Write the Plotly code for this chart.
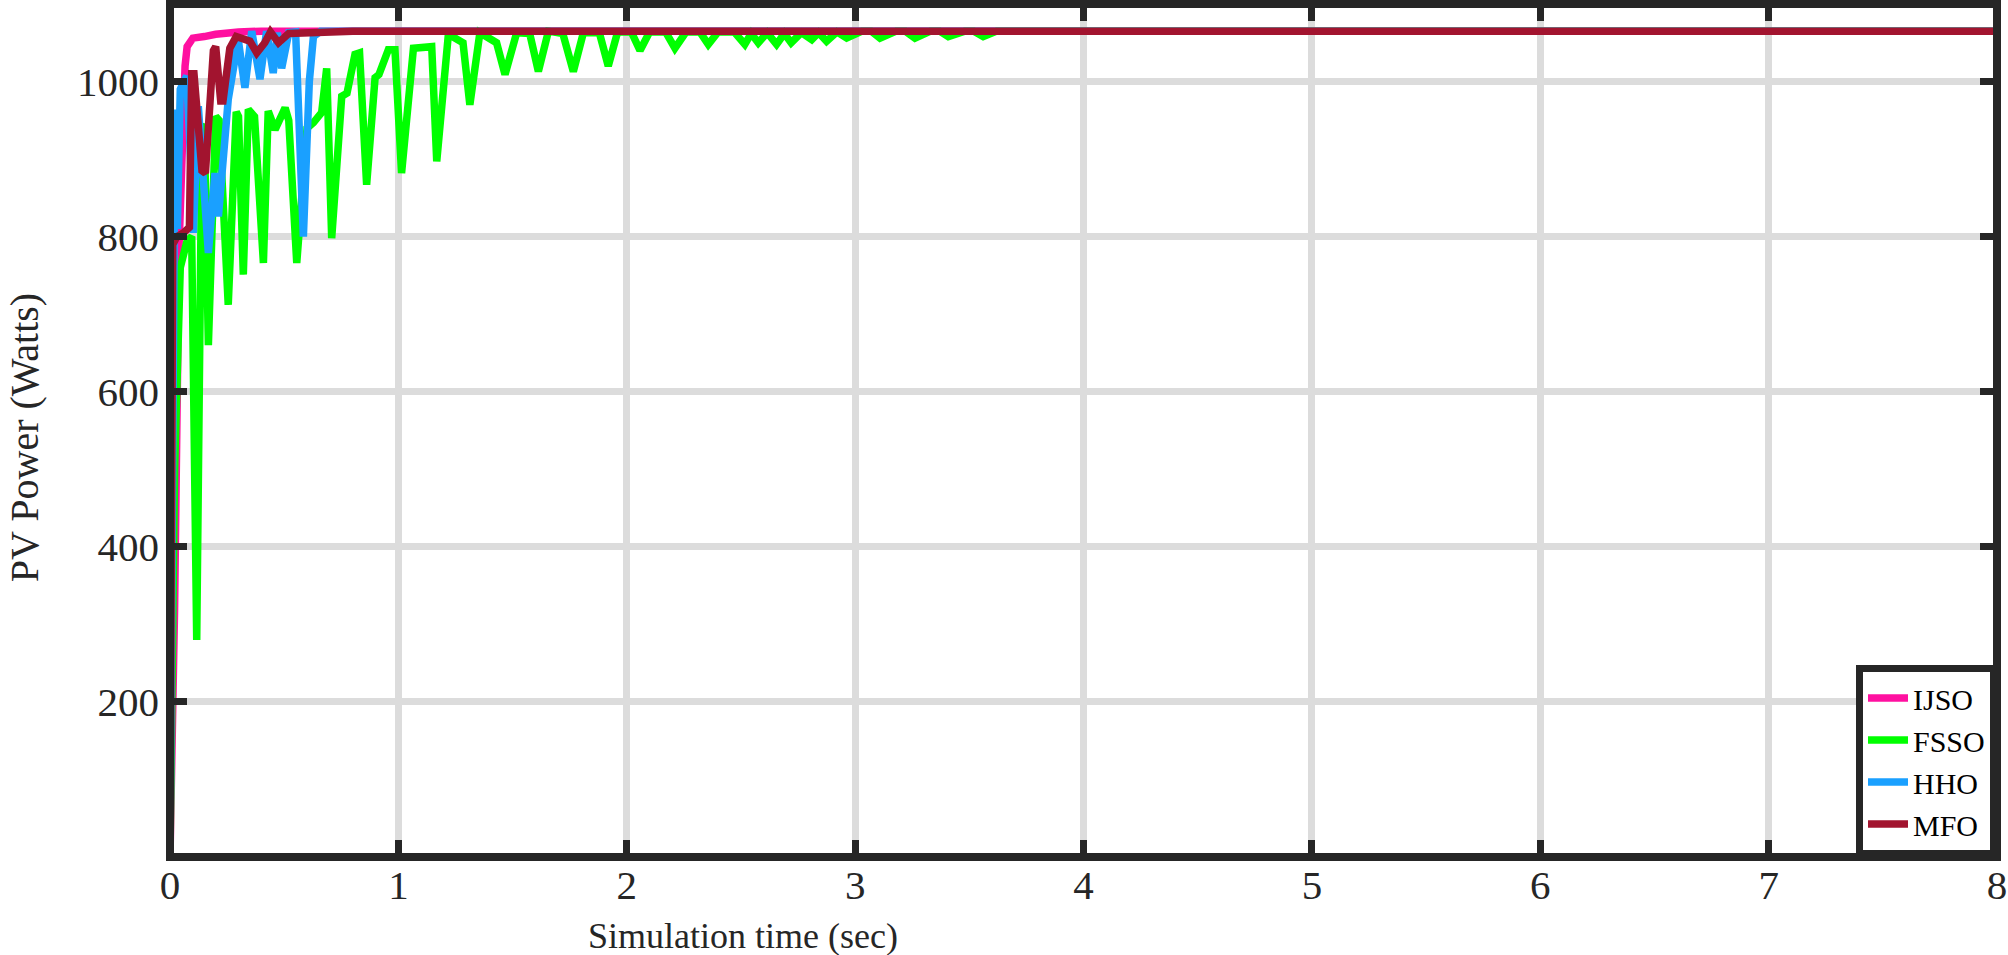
import plotly.graph_objects as go

# time (sec) / power (W), one pair of lists per algorithm
IJSO_T = [0, 0.02, 0.04, 0.05, 0.058, 0.066, 0.075, 0.1, 0.15, 0.2, 0.3, 0.4, 8]
IJSO_P = [0, 320, 790, 900, 965, 1020, 1045, 1056, 1058, 1061, 1064, 1065, 1065]

FSSO_T = [0, 0.02, 0.045, 0.075, 0.095, 0.117, 0.14, 0.15, 0.168, 0.2, 0.215,
          0.255, 0.29, 0.3, 0.321, 0.343, 0.37, 0.409, 0.43, 0.46, 0.504, 0.52,
          0.555, 0.6, 0.628, 0.664, 0.686, 0.708, 0.752, 0.775, 0.81, 0.83,
          0.861, 0.898, 0.915, 0.956, 0.985, 1.014, 1.066, 1.12, 1.146, 1.168,
          1.219, 1.283, 1.313, 1.357, 1.43, 1.467, 1.518, 1.575, 1.613, 1.657,
          1.72, 1.766, 1.81, 1.88, 1.919, 1.96, 2.02, 2.058, 2.1, 2.17, 2.211,
          2.26, 2.32, 2.357, 2.4, 2.47, 2.517, 2.545, 2.576, 2.615, 2.656, 2.69,
          2.72, 2.765, 2.81, 2.84, 2.875, 2.92, 2.963, 3.03, 3.07, 3.109, 3.18,
          3.22, 3.262, 3.33, 3.37, 3.408, 3.48, 3.52, 3.561, 3.62, 8]
FSSO_P = [0, 500, 760, 795, 800, 280, 940, 945, 660, 955, 950,
          712, 961, 955, 751, 964, 955, 766, 962, 938, 966, 950,
          766, 940, 947, 960, 1017, 798, 981, 985, 1035, 1037,
          867, 1005, 1009, 1041, 1041, 882, 1043, 1045, 1045, 897,
          1061, 1050, 970, 1063, 1050, 1009, 1063, 1062, 1013, 1065,
          1062, 1013, 1063, 1063, 1020, 1064, 1064, 1040, 1064, 1064, 1043,
          1064, 1064, 1048, 1064, 1064, 1048, 1062, 1050, 1063, 1048, 1062,
          1050, 1063, 1054, 1063, 1052, 1064, 1056, 1065, 1065, 1056, 1065,
          1065, 1056, 1065, 1065, 1058, 1065, 1065, 1058, 1065, 1065]

HHO_T = [0, 0.012, 0.022, 0.032, 0.045, 0.06, 0.073, 0.09, 0.102, 0.124, 0.145,
         0.168, 0.197, 0.212, 0.255, 0.299, 0.328, 0.358, 0.394, 0.423, 0.452,
         0.47, 0.489, 0.52, 0.55, 0.584, 0.61, 0.628, 0.66, 0.8, 8]
HHO_P = [0, 790, 964, 810, 990, 1000, 1007, 900, 805, 968, 880,
         779, 882, 826, 977, 1054, 992, 1065, 1003, 1065, 1011,
         1063, 1017, 1063, 1064, 800, 1000, 1058, 1065, 1065, 1065]

MFO_T = [0, 0.012, 0.03, 0.06, 0.085, 0.095, 0.105, 0.14, 0.155, 0.19, 0.2,
         0.222, 0.232, 0.262, 0.29, 0.35, 0.38, 0.415, 0.44, 0.475, 0.52, 0.6,
         0.8, 8]
MFO_P = [0, 790, 800, 805, 812, 1010, 1010, 885, 882, 1040, 1045,
         975, 975, 1043, 1058, 1052, 1037, 1050, 1064, 1050, 1062, 1063,
         1065, 1065]

X_TICKS = [0, 1, 2, 3, 4, 5, 6, 7, 8]
Y_TICKS = [200, 400, 600, 800, 1000]

series = [
    ("IJSO", IJSO_T, IJSO_P, "#ff10a0"),
    ("FSSO", FSSO_T, FSSO_P, "#00ff00"),
    ("HHO", HHO_T, HHO_P, "#1aa0ff"),
    ("MFO", MFO_T, MFO_P, "#a2142f"),
]

DARK = "#262626"
FONT = "Liberation Serif"

fig = go.Figure()
for name, t, p, color in series:
    fig.add_trace(go.Scatter(x=t, y=p, mode="lines", name=name,
                             line=dict(color=color, width=7.5)))

axis_common = dict(
    ticks="inside", ticklen=17, tickwidth=7, tickcolor=DARK,
    mirror="ticks", showline=False, zeroline=False, automargin=False,
    showgrid=True, gridcolor="#dcdcdc", gridwidth=7,
    tickfont=dict(family=FONT, size=41, color=DARK),
)
fig.update_xaxes(range=[0, 8], tickvals=X_TICKS, ticklabelstandoff=0, **axis_common)
fig.update_yaxes(range=[0, 1100], tickvals=Y_TICKS, ticklabelstandoff=10, **axis_common)

# frame around the plot area, centred on its edges
fig.add_shape(type="rect", xref="paper", yref="paper", x0=0, x1=1, y0=0, y1=1,
              line=dict(color=DARK, width=8), layer="above")

fig.add_annotation(text="Simulation time (sec)", xref="paper", yref="paper",
                   x=0.3136, y=-0.093, xanchor="center", yanchor="middle",
                   showarrow=False, font=dict(family=FONT, size=36, color=DARK))
fig.add_annotation(text="PV Power (Watts)", xref="paper", yref="paper",
                   x=-0.08, y=0.492, xanchor="center", yanchor="middle",
                   textangle=-90, showarrow=False,
                   font=dict(family=FONT, size=40, color=DARK))

fig.update_layout(
    width=2008, height=955,
    margin=dict(l=170, r=11, t=4, b=98, autoexpand=False),
    plot_bgcolor="white", paper_bgcolor="white",
    font=dict(family=FONT, color=DARK),
    legend=dict(x=1, y=0, xanchor="right", yanchor="bottom",
                bgcolor="white", bordercolor=DARK, borderwidth=7,
                font=dict(family=FONT, size=30, color="black"),
                itemwidth=40, tracegroupgap=0),
)

# the page body has a default 8px margin; drop it so the figure fills the window
fig.write_html("out.html", config={"displayModeBar": False},
               post_script="document.body.style.margin='0';")
